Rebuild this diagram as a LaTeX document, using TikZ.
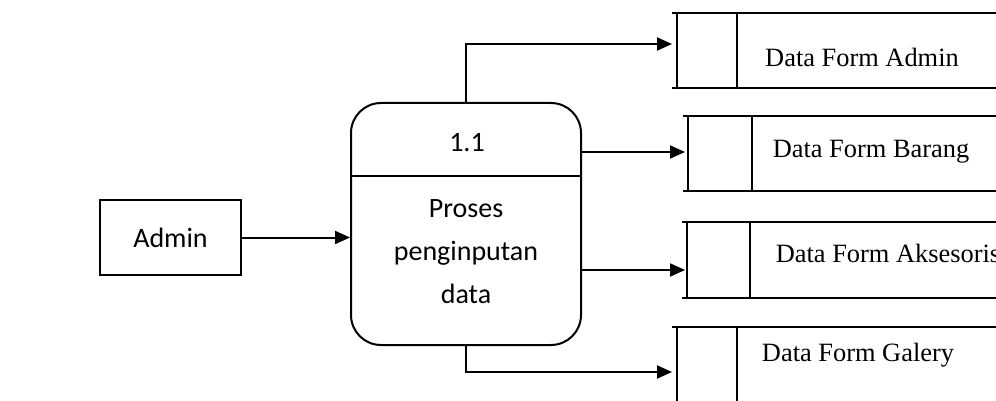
\documentclass[tikz,border=0pt]{standalone}
\usepackage{fontspec}
\setmainfont{Liberation Serif}
\newfontfamily\calibri{Carlito}
\usetikzlibrary{arrows.meta}
\tikzset{
	flow/.style={-{Triangle[length=7.5pt,width=6.5pt]}, line width=1pt},
	proc/.style={draw, line width=1pt, rounded corners=15pt, minimum width=115pt, minimum height=121pt},
	entity/.style={draw, line width=0.9pt, minimum width=70.5pt, minimum height=37.5pt, font=\calibri\fontsize{14}{16}\selectfont},
	store/.style={line width=1pt},
	storetext/.style={font=\fontsize{13.2}{15}\selectfont}
}

\begin{document}
\begin{tikzpicture}[x=0.5pt,y=-0.5pt]
			\useasboundingbox (0,0) rectangle (996,401);
			\clip (0,0) rectangle (996,401);
			% external entity and process
			\node[entity] (admin) at (170.5,237.5) {Admin};
			\node[proc] (proc) at (466,224) {};
			\draw[line width=0.8pt] (proc.west |- 0,176) -- (proc.east |- 0,176);
			\node[font=\calibri\fontsize{14}{21.5}\selectfont] (pnum) at (467,143) {1.1};
			\node[align=center, font=\calibri\fontsize{14}{21.5}\selectfont] (pname) at (466,252) {Proses\\penginputan\\data};
			% data stores
			\foreach \nm/\top/\bot/\lx/\dx/\tx/\ty/\txt in {
				sadmin/13/88/677/737/862/57/Data Form Admin,
				sbarang/116/191/688/752/871/152/Data Form Barang,
				saksesoris/222/298/687/750/888/253/Data Form Aksesoris,
				sgalery/327/410/677/737/858/355/Data Form Galery}{
				\draw[store] (\lx-5,\top) -- (996,\top) (\lx-5,\bot) -- (996,\bot);
				\draw[store] (\lx,\top) -- (\lx,\bot) (\dx,\top) -- (\dx,\bot);
				\node[storetext] (\nm) at (\tx,\ty) {\txt};
			}
			% arrow ends in front of the stores
			\coordinate (inadmin) at (672,44);
			\coordinate (inbarang) at (685,152);
			\coordinate (inaksesoris) at (685,270);
			\coordinate (ingalery) at (672,372);
			% flows
			\draw[flow] (admin.east) -- (admin.east -| proc.west);
			\draw[flow] (proc.north) |- (inadmin);
			\draw[flow] (proc.east |- inbarang) -- (inbarang);
			\draw[flow] (proc.east |- inaksesoris) -- (inaksesoris);
			\draw[flow] (proc.south) |- (ingalery);
		\end{tikzpicture}
\end{document}
